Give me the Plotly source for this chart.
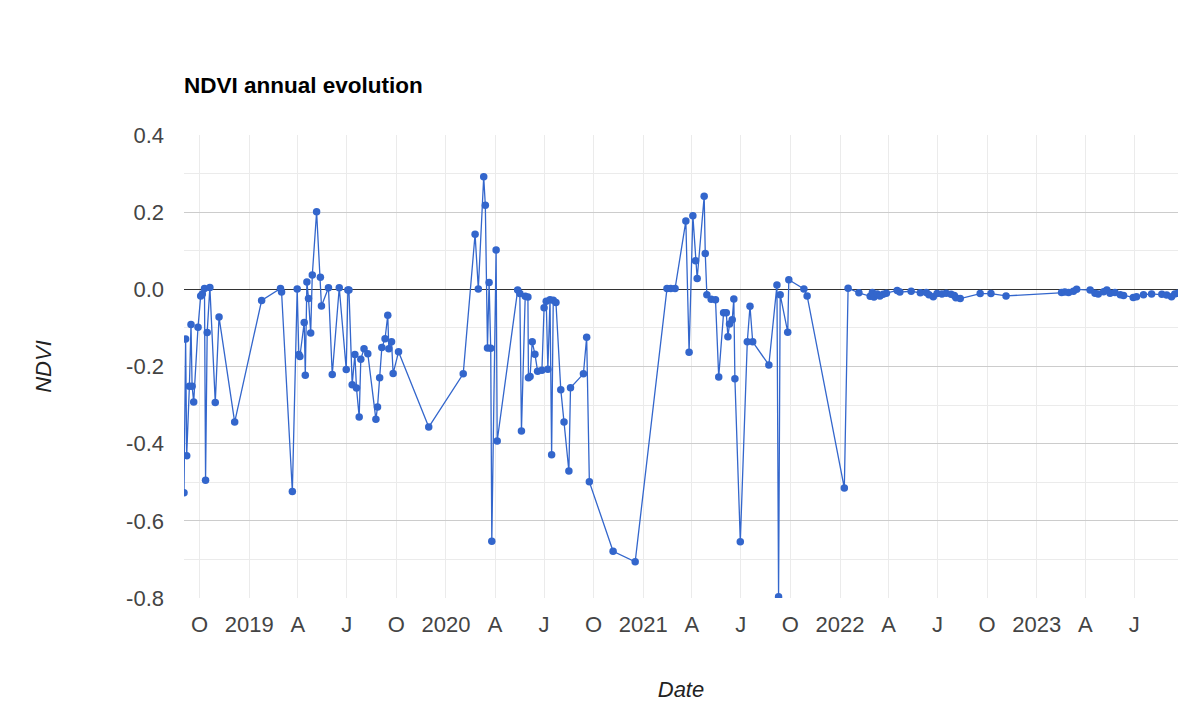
import plotly.graph_objects as go

# ---- data ----
dates_2018 = ["2018-09-02","2018-09-05","2018-09-07","2018-09-12","2018-09-15","2018-09-17","2018-09-20","2018-09-28",
              "2018-10-03","2018-10-06","2018-10-10","2018-10-12","2018-10-15","2018-10-20","2018-10-30","2018-11-06","2018-12-05"]
ndvi_2018 = [-0.527,-0.129,-0.431,-0.251,-0.091,-0.251,-0.292,-0.098,
             -0.017,-0.012,0.002,-0.495,-0.112,0.005,-0.293,-0.072,-0.344]

dates_2019 = ["2019-01-24","2019-02-28","2019-03-02","2019-03-22","2019-03-31","2019-04-03","2019-04-05","2019-04-13",
              "2019-04-15","2019-04-18","2019-04-21","2019-04-25","2019-04-28","2019-05-06","2019-05-13","2019-05-15",
              "2019-05-28","2019-06-04","2019-06-17","2019-06-30","2019-07-03","2019-07-05","2019-07-11","2019-07-16",
              "2019-07-19","2019-07-24","2019-07-27","2019-08-02","2019-08-09","2019-08-24","2019-08-27","2019-08-31",
              "2019-09-04","2019-09-10","2019-09-15","2019-09-17","2019-09-22","2019-09-25","2019-10-05","2019-11-30"]
ndvi_2019 = [-0.029,0.002,-0.007,-0.524,0.001,-0.169,-0.174,-0.086,
             -0.223,0.019,-0.024,-0.113,0.037,0.201,0.031,-0.043,
             0.004,-0.221,0.004,-0.208,-0.002,-0.002,-0.247,-0.169,
             -0.256,-0.331,-0.181,-0.154,-0.167,-0.337,-0.305,-0.229,
             -0.151,-0.128,-0.067,-0.154,-0.136,-0.218,-0.162,-0.357]

dates_2020 = ["2020-02-02","2020-02-24","2020-03-01","2020-03-11","2020-03-14","2020-03-18","2020-03-21","2020-03-24",
              "2020-03-26","2020-04-03","2020-04-05","2020-05-13","2020-05-17","2020-05-20","2020-05-27","2020-06-01",
              "2020-06-02","2020-06-05","2020-06-09","2020-06-14","2020-06-19","2020-06-27","2020-07-01","2020-07-05",
              "2020-07-08","2020-07-12","2020-07-15","2020-07-18","2020-07-23","2020-08-01","2020-08-07","2020-08-16",
              "2020-08-19","2020-09-12","2020-09-18","2020-09-23","2020-11-06","2020-12-17"]
ndvi_2020 = [-0.219,0.143,0.001,0.292,0.218,-0.152,0.018,-0.153,
             -0.653,0.102,-0.393,-0.002,-0.011,-0.367,-0.018,-0.020,
             -0.229,-0.226,-0.136,-0.168,-0.212,-0.210,-0.048,-0.031,
             -0.207,-0.027,-0.429,-0.028,-0.034,-0.260,-0.344,-0.471,
             -0.255,-0.219,-0.124,-0.499,-0.679,-0.706]

dates_2021 = ["2021-02-14","2021-02-21","2021-03-01","2021-03-21","2021-03-27","2021-04-03","2021-04-08","2021-04-11",
              "2021-04-24","2021-04-26","2021-04-29","2021-05-07","2021-05-15","2021-05-21","2021-05-30","2021-06-04",
              "2021-06-07","2021-06-10","2021-06-15","2021-06-18","2021-06-20","2021-06-30","2021-07-13","2021-07-18",
              "2021-07-23","2021-08-22","2021-09-06","2021-09-09","2021-09-12","2021-09-26","2021-09-28","2021-10-26",
              "2021-11-01"]
ndvi_2021 = [0.002,0.002,0.002,0.177,-0.163,0.191,0.074,0.028,
             0.241,0.093,-0.014,-0.026,-0.027,-0.227,-0.061,-0.061,
             -0.123,-0.090,-0.079,-0.025,-0.232,-0.654,-0.136,-0.044,
             -0.136,-0.196,0.011,-0.797,-0.014,-0.111,0.025,0.001,
             -0.017]

dates_2022 = ["2022-01-09","2022-01-16","2022-02-05","2022-02-26","2022-03-02","2022-03-05","2022-03-11","2022-03-16",
              "2022-03-22","2022-03-28","2022-04-17","2022-04-22","2022-05-13","2022-05-30","2022-06-10","2022-06-15",
              "2022-06-23","2022-06-30","2022-07-09","2022-07-17","2022-07-26","2022-08-01","2022-08-04","2022-08-12",
              "2022-09-18","2022-10-08","2022-11-05"]
ndvi_2022 = [-0.515,0.003,-0.009,-0.018,-0.008,-0.020,-0.012,-0.017,
             -0.013,-0.010,-0.003,-0.007,-0.005,-0.009,-0.008,-0.014,
             -0.019,-0.011,-0.012,-0.010,-0.013,-0.016,-0.022,-0.024,
             -0.011,-0.011,-0.017]

dates_2023 = ["2023-02-16","2023-02-22","2023-03-01","2023-03-10","2023-03-16","2023-04-10","2023-04-19","2023-04-25",
              "2023-05-05","2023-05-11","2023-05-17","2023-05-26","2023-06-05","2023-06-11","2023-06-29","2023-07-05",
              "2023-07-18","2023-08-02","2023-08-21","2023-08-30","2023-09-08","2023-09-14","2023-09-20"]
ndvi_2023 = [-0.008,-0.007,-0.008,-0.005,0.000,-0.002,-0.010,-0.012,
             -0.006,-0.002,-0.010,-0.008,-0.014,-0.016,-0.021,-0.019,
             -0.014,-0.012,-0.013,-0.015,-0.019,-0.012,-0.010]

tick_dates = ["2018-10-01","2019-01-01","2019-04-01","2019-07-01","2019-10-01","2020-01-01","2020-04-01","2020-07-01",
              "2020-10-01","2021-01-01","2021-04-01","2021-07-01","2021-10-01","2022-01-01","2022-04-01","2022-07-01",
              "2022-10-01","2023-01-01","2023-04-01","2023-07-01"]
tick_labels = ["O","2019","A","J","O","2020","A","J","O","2021","A","J","O","2022","A","J","O","2023","A","J"]
year_dates = ["2019-01-01","2020-01-01","2021-01-01","2022-01-01","2023-01-01"]
y_ticks = [-0.8,-0.6,-0.4,-0.2,0.0,0.2,0.4]
y_tick_labels = ["-0.8","-0.6","-0.4","-0.2","0.0","0.2","0.4"]

dates = dates_2018 + dates_2019 + dates_2020 + dates_2021 + dates_2022 + dates_2023
ndvi = ndvi_2018 + ndvi_2019 + ndvi_2020 + ndvi_2021 + ndvi_2022 + ndvi_2023

FONT = "Liberation Sans, Arial, sans-serif"
OFF = 8  # page body margin of the browser
TICK = 22

fig = go.Figure()
fig.add_trace(go.Scatter(
    x=dates, y=ndvi, mode="lines+markers", name="NDVI",
    line=dict(color="#3366cc", width=1.3),
    marker=dict(color="#3366cc", size=7.5),
    showlegend=False,
))

fig.update_layout(
    width=1200, height=715,
    paper_bgcolor="white", plot_bgcolor="white",
    margin=dict(l=184 - OFF, r=22 + OFF, t=135 - OFF, b=117 + OFF),
    font=dict(family=FONT, size=TICK, color="#444444"),
    title=dict(text="<b>NDVI annual evolution</b>", x=(184 - OFF)/1200, xref="container", xanchor="left",
               y=1-(85 - OFF)/715, yref="container", yanchor="middle",
               font=dict(family=FONT, size=22.5, color="#000000")),
    xaxis=dict(
        type="date",
        range=[dates[0], dates[-1]],
        tickmode="array", tickvals=tick_dates, ticktext=tick_labels,
        showgrid=True, gridcolor="#ebebeb", gridwidth=1,
        showline=False, zeroline=False,
        ticks="", ticklabelstandoff=11,
        tickfont=dict(size=TICK, color="#444444"),
        title=dict(text="<i>Date</i>", font=dict(size=TICK, color="#222222"), standoff=45),
    ),
    xaxis2=dict(
        type="date", overlaying="x", matches="x",
        range=[dates[0], dates[-1]],
        tickmode="array", tickvals=year_dates,
        showticklabels=False, showgrid=True, gridcolor="#cccccc", gridwidth=1,
        showline=False, zeroline=False, ticks="",
    ),
    yaxis=dict(
        range=[-0.8, 0.4],
        tickmode="array", tickvals=y_ticks, ticktext=y_tick_labels,
        showgrid=True, gridcolor="#cccccc", gridwidth=1,
        minor=dict(dtick=0.1, tick0=0, showgrid=True, gridcolor="#ebebeb", gridwidth=1),
        zeroline=True, zerolinecolor="#333333", zerolinewidth=1,
        showline=False, ticks="", ticklabelstandoff=19,
        tickfont=dict(size=TICK, color="#444444"),
        title=dict(text="<i>NDVI</i>", font=dict(size=TICK, color="#222222"), standoff=68),
    ),
)

fig.write_html("out.html")
